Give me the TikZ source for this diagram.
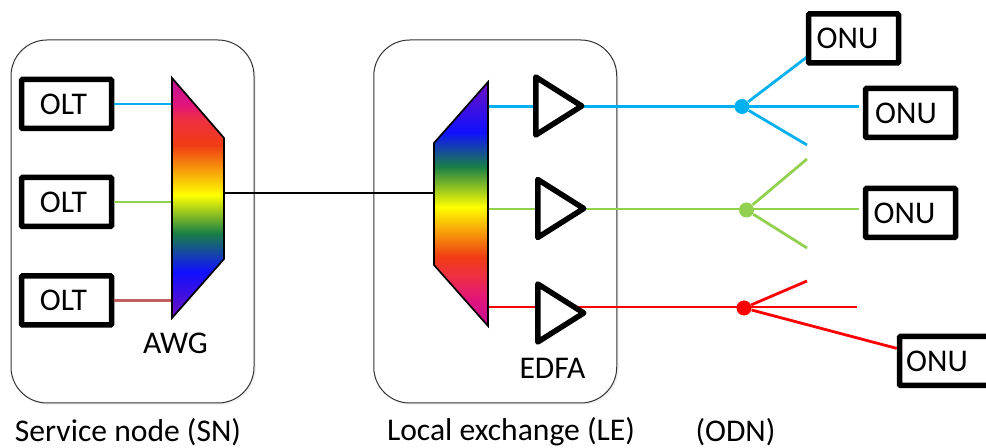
\documentclass[tikz,border=0pt]{standalone}
\usepackage{fontspec}
\setmainfont{Carlito}
\usetikzlibrary{shapes.geometric, shadows}

\definecolor{fiberblue}{RGB}{0,176,240}
\definecolor{fibergreen}{RGB}{146,208,80}
\definecolor{fiberred}{RGB}{255,0,0}
\definecolor{fiberbrown}{RGB}{192,96,95}
\definecolor{specpurple}{RGB}{112,16,192}
\definecolor{specviolet}{RGB}{192,16,150}
\definecolor{specmagenta}{RGB}{226,20,125}
\definecolor{specpink}{RGB}{238,48,64}
\definecolor{specorange}{RGB}{240,60,20}
\definecolor{specyellow}{RGB}{255,255,0}
\definecolor{specgreen}{RGB}{26,128,70}
\definecolor{specblue}{RGB}{16,16,255}

\pgfdeclareverticalshading{awgrainbow}{100bp}{color(0bp)=(specpurple); color(25bp)=(specpurple); color(34.6bp)=(specblue); color(42.7bp)=(specgreen); color(50.6bp)=(specyellow); color(61bp)=(specorange); color(66.25bp)=(specpink); color(69.5bp)=(specmagenta); color(75bp)=(specviolet); color(100bp)=(specviolet)}
\pgfdeclareverticalshading{lerainbow}{100bp}{color(0bp)=(specviolet); color(25bp)=(specviolet); color(30.35bp)=(specmagenta); color(35.5bp)=(specpink); color(39.15bp)=(specorange); color(49.4bp)=(specyellow); color(57.6bp)=(specgreen); color(64.75bp)=(specblue); color(75bp)=(specpurple); color(100bp)=(specpurple)}

\tikzstyle{site} = [rectangle, rounded corners=18pt, minimum width=121.5pt, minimum height=181.5pt, inner sep=0pt, draw=black!80, line width=0.5pt, fill=white, drop shadow={shadow xshift=1pt, shadow yshift=-1pt, opacity=.1}]
\tikzstyle{terminal} = [rectangle, rounded corners=0.5pt, minimum width=45pt, minimum height=24.5pt, inner sep=0pt, draw=black, line width=2.75pt, fill=white, font=\fontsize{15.8}{17}\selectfont]
\tikzstyle{olt} = [terminal, execute at end node=\hspace{3pt}]
\tikzstyle{onu} = [terminal, execute at end node=\hspace{6pt}]
\tikzstyle{edfa} = [isosceles triangle, isosceles triangle stretches, minimum width=29pt, minimum height=23pt, inner sep=0pt, draw=black, line width=2.75pt, line join=round, fill=white, anchor=lower side]
\tikzstyle{mux} = [draw=black, line width=0.85pt, line join=miter]
\tikzstyle{label} = [inner sep=0pt, font=\fontsize{15.8}{17}\selectfont]
\tikzstyle{fiber} = [line width=1.4pt]
\tikzstyle{trunk} = [fiber, black]
\tikzstyle{splitter} = [circle, minimum size=7.5pt, inner sep=0pt]

\begin{document}
\begin{tikzpicture}[x=0.5pt, y=-0.5pt, node distance=49pt]
\useasboundingbox (0,0) rectangle (986,448);

% sites
\node (SN) [site] at (132.5,221.5) {};
\node (LE) [site] at (495.25,221.5) {};

% transmitters
\node (olt1) [olt] at (66.5,104) {OLT};
\node (olt2) [olt, below of=olt1] {OLT};
\node (olt3) [olt, below of=olt2, yshift=-0.25pt] {OLT};

% fibre ends on the two multiplexers
\coordinate (awgin1) at (172,104);
\coordinate (awgin2) at (172,202);
\coordinate (awgin3) at (172,300.5);
\coordinate (awgout) at (224,193);
\coordinate (lein) at (434,193);
\coordinate (leout1) at (488,106.5);
\coordinate (leout2) at (488,209);
\coordinate (leout3) at (488,307);

% splitters
\node (split1) [splitter, fill=fiberblue] at (742,106.5) {};
\node (split2) [splitter, fill=fibergreen] at (746.5,210) {};
\node (split3) [splitter, fill=fiberred] at (744,308) {};

% free ends of the drops
\coordinate (drop1a) at (807,57);
\coordinate (drop1b) at (859,106.5);
\coordinate (drop1c) at (807,145);
\coordinate (drop2a) at (807,159);
\coordinate (drop2b) at (859,209);
\coordinate (drop2c) at (807,248);
\coordinate (drop3a) at (807,281);
\coordinate (drop3b) at (857,307);

\draw [fiber, fiberblue] (olt1) -- (awgin1);
\draw [fiber, fibergreen] (olt2) -- (awgin2);
\draw [fiber, fiberbrown] (olt3) -- (awgin3);
\draw [trunk] (awgout) -- (lein);

\draw [fiber, fiberblue] (leout1) -- (drop1b);
\draw [fiber, fibergreen] (leout2) -- (drop2b);
\draw [fiber, fiberred] (leout3) -- (drop3b);

\draw [fiber, fiberblue] (split1) -- (drop1a);
\draw [fiber, fiberblue] (split1) -- (drop1c);
\draw [fiber, fibergreen] (split2) -- (drop2a);
\draw [fiber, fibergreen] (split2) -- (drop2c);
\draw [fiber, fiberred] (split3) -- (drop3a);

% multiplexers
\shadedraw [mux, shading=awgrainbow] (172,78) -- (224,138) -- (224,259) -- (172,318) -- cycle;
\shadedraw [mux, shading=lerainbow] (488,82) -- (434,143) -- (434,265) -- (488,326) -- cycle;

% amplifiers
\node (amp1) [edfa] at (533,106) {};
\node (amp2) [edfa] at (535,208.5) {};
\node (amp3) [edfa] at (535,313) {};

% receivers
\node (onu1) [onu] at (853.5,38.5) {ONU};
\node (onu2) [onu, execute at end node=\hspace{-1.5pt}] at (910.5,113) {ONU};
\node (onu3) [onu] at (910.5,213) {ONU};
\node (onu4) [onu, execute at end node=\hspace{1.5pt}] at (944.5,361) {ONU};

\draw [fiber, fiberred] (split3) -- (onu4);

\node (awg) [label] at (175.5,343) {AWG};
\node (edfalabel) [label] at (552.5,368) {EDFA};
\node (snlabel) [label] at (128,432) {Service node (SN)};
\node (lelabel) [label] at (511,432) {Local exchange (LE)};
\node (odnlabel) [label] at (735.5,432) {(ODN)};

\end{tikzpicture}
\end{document}
